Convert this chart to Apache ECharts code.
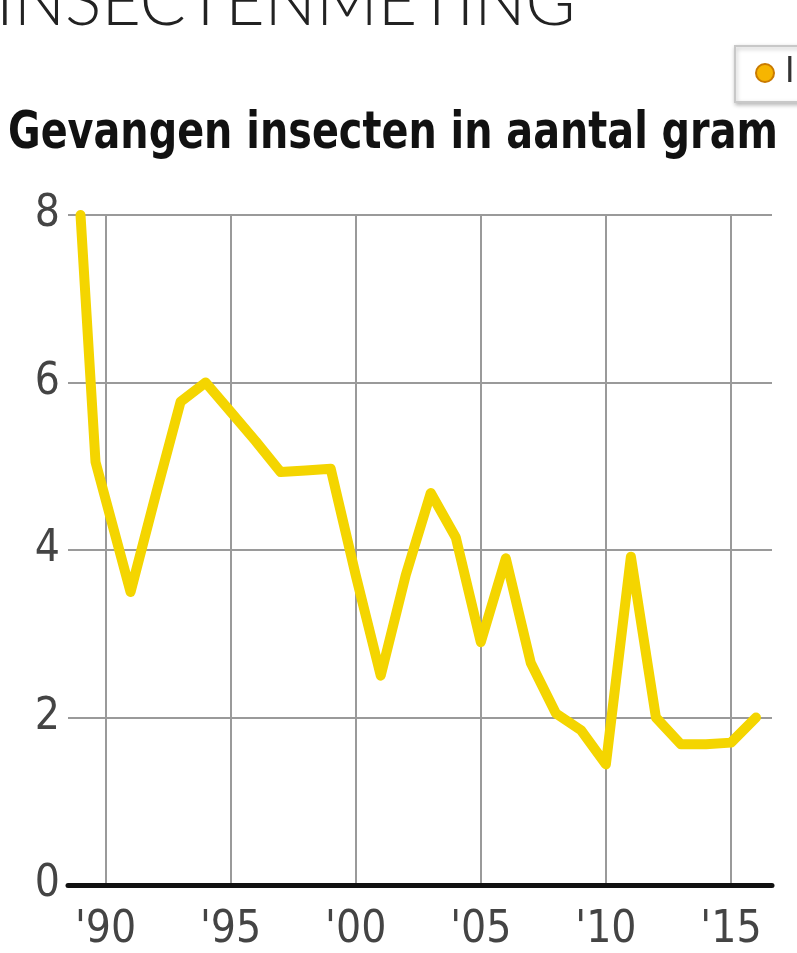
<!DOCTYPE html>
<html>
<head>
<meta charset="utf-8">
<style>
html,body{margin:0;padding:0;background:#fff;}
#chart{width:797px;height:953px;}
</style>
<script src="https://cdn.jsdelivr.net/npm/echarts@6/dist/echarts.min.js"></script>
</head>
<body>
<div id="chart"></div>
<script>
// Data
const years = [1989, 1989.6, 1991, 1992, 1993, 1994, 1995, 1996, 1997, 1998, 1999, 2000, 2001, 2002, 2003, 2004, 2005, 2006, 2007, 2008, 2009, 2010, 2011, 2012, 2013, 2014, 2015, 2016];
const grams = [8.0, 5.05, 3.5, 4.65, 5.77, 6.0, 5.65, 5.3, 4.93, 4.95, 4.97, 3.7, 2.5, 3.7, 4.68, 4.15, 2.9, 3.9, 2.65, 2.05, 1.85, 1.44, 3.92, 2.0, 1.68, 1.68, 1.7, 2.0];
const xTicks = [1990, 1995, 2000, 2005, 2010, 2015];
const xTickLabels = ["'90", "'95", "'00", "'05", "'10", "'15"];
const yTicks = [0, 2, 4, 6, 8];
const titleText = 'Gevangen insecten in aantal gram';
const headText = 'INSECTENMETING';
const legendText = 'Insecten';

const chart = echarts.init(document.getElementById('chart'), null, {renderer: 'canvas'});
const labelMap = {};
xTicks.forEach((t, i) => { labelMap[t] = xTickLabels[i]; });

chart.setOption({
  backgroundColor: '#ffffff',
  animation: false,
  graphic: [
    {
      type: 'text',
      x: 8,
      y: 108,
      scaleX: 0.85,
      style: {
        text: titleText,
        font: 'bold 52px "DejaVu Sans Condensed", "Liberation Sans", sans-serif',
        fill: '#111'
      }
    },
    {
      type: 'text',
      x: -4,
      y: -31,
      style: {
        text: headText,
        font: '300 68px Lato, "Open Sans", sans-serif',
        fill: '#222'
      }
    },
    {
      type: 'group',
      x: 735,
      y: 46,
      children: [
        {
          type: 'rect',
          shape: {x: 0, y: 0, width: 120, height: 56},
          style: {fill: '#ffffff', stroke: '#c8c8c8', lineWidth: 2, shadowBlur: 4, shadowOffsetX: 1, shadowOffsetY: 2, shadowColor: 'rgba(0,0,0,0.25)'}
        },
        {
          type: 'circle',
          shape: {cx: 30, cy: 27, r: 9},
          style: {fill: '#f7b500', stroke: '#c97a00', lineWidth: 2}
        },
        {
          type: 'text',
          x: 50, y: 27,
          style: {text: legendText, font: '36px "DejaVu Sans Condensed", sans-serif', fill: '#333', verticalAlign: 'middle'}
        }
      ]
    }
  ],
  grid: {left: 68, right: 25, top: 215, bottom: 65, containLabel: false},
  xAxis: {
    type: 'value',
    min: 1988.5,
    max: 2016.64,
    axisLine: {show: true, onZero: true, lineStyle: {color: '#111', width: 5}},
    axisTick: {show: false, customValues: xTicks},
    axisLabel: {
      customValues: xTicks,
      formatter: v => labelMap[v] || '',
      fontFamily: 'DejaVu Sans Condensed, sans-serif',
      fontSize: 44,
      color: '#444',
      margin: 24
    },
    splitLine: {show: true, lineStyle: {color: '#9a9a9a', width: 2}}
  },
  yAxis: {
    type: 'value',
    min: 0,
    max: 8,
    interval: 2,
    axisLine: {show: false},
    axisTick: {show: false},
    axisLabel: {
      fontFamily: 'DejaVu Sans Condensed, sans-serif',
      fontSize: 44,
      color: '#444',
      margin: 8
    },
    splitLine: {show: true, lineStyle: {color: '#9a9a9a', width: 2}}
  },
  series: [{
    type: 'line',
    data: years.map((y, i) => [y, grams[i]]),
    symbol: 'none',
    clip: false,
    z: 5,
    lineStyle: {color: '#f4d500', width: 10, join: 'round', cap: 'round'}
  }]
});
</script>
</body>
</html>
